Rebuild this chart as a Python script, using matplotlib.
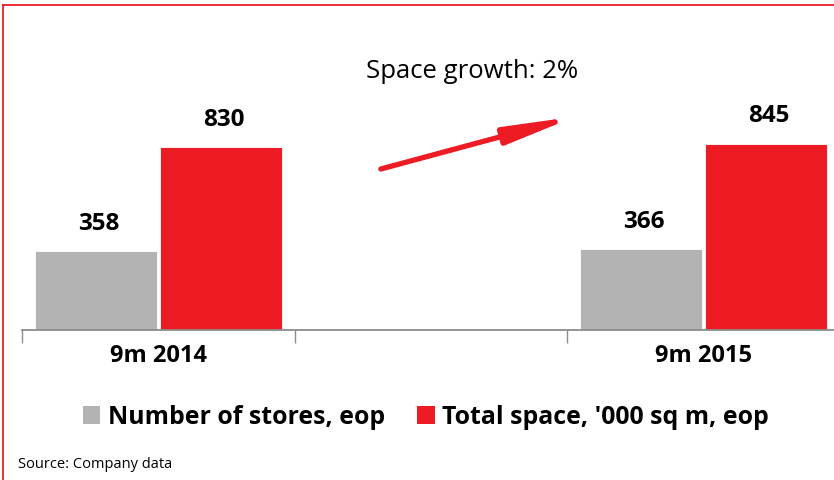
import numpy as np
import matplotlib.pyplot as plt
from matplotlib.lines import Line2D
from matplotlib.patches import Patch

plt.rcParams['font.family'] = ['Open Sans', 'DejaVu Sans']

# данные
periods = ['9m 2014', '', '9m 2015']
stores = [358, np.nan, 366]
space = [830, np.nan, 845]
series_names = ['Number of stores, eop', "Total space, '000 sq m, eop"]
growth_text = 'Space growth: 2%'
source_text = 'Source: Company data'

grey = '#b3b3b3'
red = '#ed1c24'

W, H = 834, 480
fig = plt.figure(figsize=(W / 100, H / 100), dpi=100)
ax = fig.add_axes([22 / W, 150 / H, 818 / W, 290 / H])

x = np.arange(len(periods))
w = 0.448
off = 0.229
b1 = ax.bar(x - off, stores, width=w, color=grey, edgecolor='white', linewidth=0.6)
b2 = ax.bar(x + off, space, width=w, color=red, edgecolor='white', linewidth=0.6)

for bars, vals in ((b1, stores), (b2, space)):
    for b, v in zip(bars, vals):
        if np.isnan(v):
            continue
        ax.annotate(f'{v:.0f}', (b.get_x() + b.get_width() / 2 + 0.01, v),
                    xytext=(0, 11), textcoords='offset points',
                    ha='center', va='bottom', fontsize=17.5, fontweight='bold')

ax.set_xlim(-0.5, 2.5)
ax.set_ylim(0, 1315)
for s in ['top', 'right', 'left']:
    ax.spines[s].set_visible(False)
ax.spines['bottom'].set_color('#8c8c8c')
ax.spines['bottom'].set_linewidth(1.3)
ax.set_yticks([])

ax.set_xticks(np.arange(-0.5, 3.0, 1.0))
ax.set_xticklabels([])
ax.tick_params(axis='x', which='major', length=9, color='#8c8c8c', width=1.0)
ax.set_xticks(x, minor=True)
ax.set_xticklabels(periods, minor=True, fontsize=17, fontweight='bold')
ax.tick_params(axis='x', which='minor', length=0, pad=10)

# стрелка роста
ax.annotate('', xy=(1.53, 968), xytext=(0.816, 730),
            arrowprops=dict(arrowstyle='-|>,head_length=2.0,head_width=0.25',
                            mutation_scale=20, color=red, lw=3.8,
                            shrinkA=0, shrinkB=0))
fig.text(472 / W, 1 - 72 / H, growth_text, ha='center', va='center',
         fontsize=18.5)

handles = [Patch(facecolor=grey), Patch(facecolor=red)]
fig.legend(handles, series_names, loc='center', bbox_to_anchor=(426 / W, 1 - 417 / H),
           ncol=2, frameon=False, handlelength=0.7, handleheight=0.7,
           handletextpad=0.3, columnspacing=1.3,
           prop={'size': 17.9, 'weight': 'bold'})

fig.text(18 / W, 1 - 465 / H, source_text, ha='left', va='center', fontsize=10.5)

# рамка
fig.add_artist(Line2D([2.5 / W, 2.5 / W], [0, 1 - 4.5 / H], color=red, lw=1.3,
                      transform=fig.transFigure))
fig.add_artist(Line2D([2.5 / W, 1], [1 - 4.5 / H, 1 - 4.5 / H], color=red, lw=1.3,
                      transform=fig.transFigure))

fig.savefig('out.png', dpi=100)
